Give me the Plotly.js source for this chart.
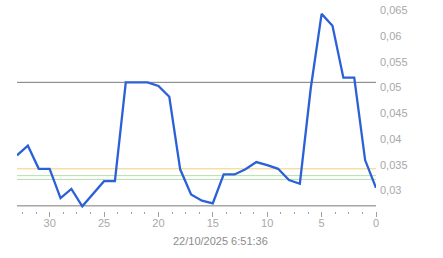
<!DOCTYPE html>
<html>
<head>
<meta charset="utf-8">
<script src="https://cdn.plot.ly/plotly-3.0.1.min.js"></script>
<style>
html,body{margin:0;padding:0;background:#fff;}
#chart{width:443px;height:258px;}
</style>
</head>
<body>
<div id="chart"></div>
<script>
const times = [33,32,31,30,29,28,27,26,25,24,23,22,21,20,19,18,17,16,15,14,13,12,11,10,9,8,7,6,5,4,3,2,1,0];
const values = [0.0368,0.0387,0.0342,0.0342,0.0285,0.0303,0.0269,0.0294,0.0318,0.0318,
                0.0510,0.0510,0.0510,0.0503,0.0482,0.0341,0.0292,0.0280,0.0275,0.0331,
                0.0331,0.0341,0.0355,0.0349,0.0342,0.0320,0.0313,0.0498,0.0643,0.0620,
                0.0519,0.0519,0.0359,0.0305];
const limitLines = [0.051, 0.027];
const orangeLines = [0.0342];
const greenLines = [0.03287, 0.03214];
const yTickVals = [0.03,0.035,0.04,0.045,0.05,0.055,0.06,0.065];
const yTickText = ['0,03','0,035','0,04','0,045','0,05','0,055','0,06','0,065'];
const timestamp = '22/10/2025 6:51:36';

const shapes = [];
function hline(v, color){
  shapes.push({type:'line', xref:'paper', x0:0, x1:1, yref:'y', y0:v, y1:v,
    line:{color:color, width:1}, layer:'below'});
}
greenLines.forEach(v=>hline(v,'#b5dea8'));
orangeLines.forEach(v=>hline(v,'#f2cf7a'));
limitLines.forEach(v=>hline(v,'#7a7a7a'));

const font = {family:'Liberation Sans, Arial, sans-serif', size:11, color:'#a8a8a8'};

Plotly.newPlot('chart', [{
  x: times, y: values, type:'scatter', mode:'lines',
  line:{color:'#2c60d8', width:2.3}, hoverinfo:'skip'
}], {
  width:443, height:258,
  margin:{l:17, r:67, t:0, b:47},
  paper_bgcolor:'#fff', plot_bgcolor:'#fff',
  showlegend:false,
  separators:',.',
  font: font,
  xaxis:{
    range:[33,0], showgrid:false, zeroline:false, showline:false,
    tickmode:'linear', tick0:0, dtick:5,
    ticks:'outside', ticklen:5, tickcolor:'#a0a0a0', tickwidth:1,
    ticklabelstandoff:-3,
    tickfont:font,
    minor:{tickmode:'linear', tick0:0, dtick:1.25, ticks:'outside', ticklen:2, tickcolor:'#a0a0a0', tickwidth:1, showgrid:false}
  },
  yaxis:{
    range:[0.026,0.067], side:'right', showgrid:false, zeroline:false, showline:false,
    tickmode:'array', tickvals:yTickVals, ticktext:yTickText, ticks:'',
    ticklabelstandoff:3,
    tickfont:font
  },
  shapes: shapes,
  annotations:[{
    text: timestamp, xref:'paper', yref:'paper', x:0.566, y:-0.143, yanchor:'middle', xanchor:'center',
    showarrow:false, font:{family:'Liberation Sans, Arial, sans-serif', size:11, color:'#8c8c8c'}
  }]
}, {staticPlot:true, displayModeBar:false});
</script>
</body>
</html>
